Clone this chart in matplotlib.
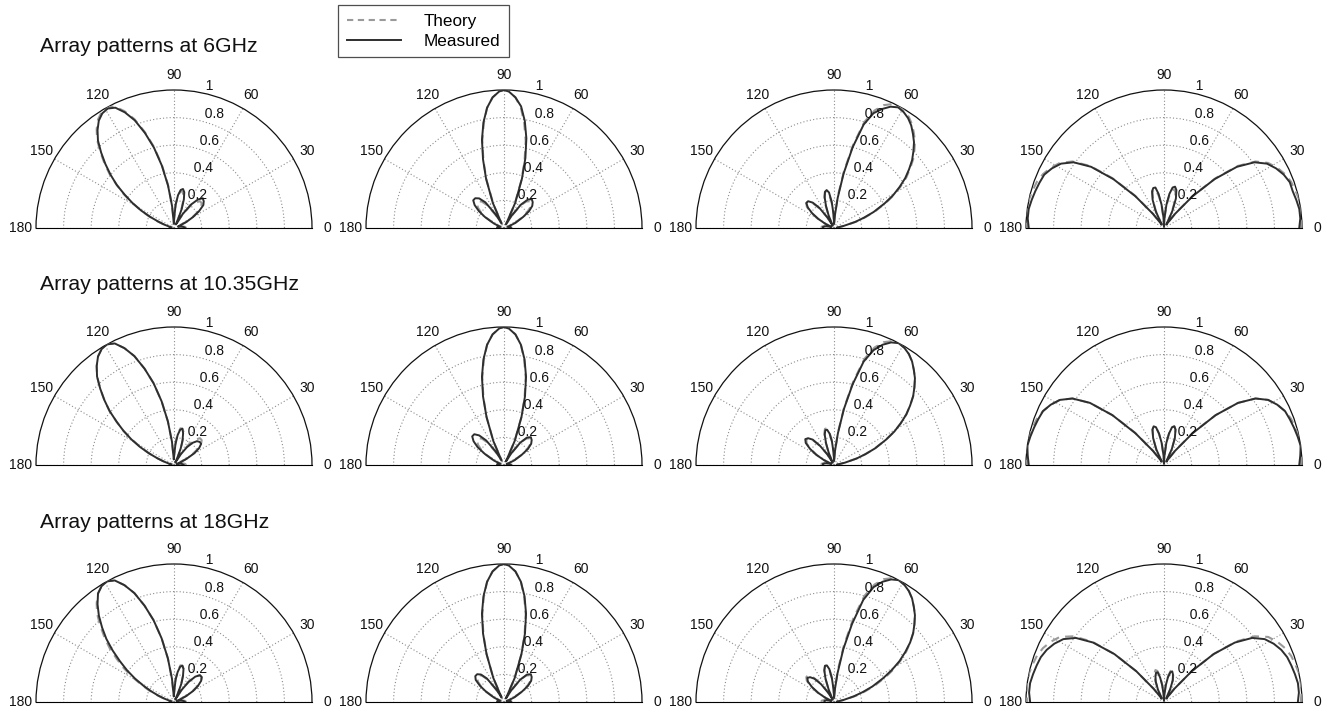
import numpy as np
import matplotlib
matplotlib.use("Agg")
import matplotlib.pyplot as plt
from matplotlib.lines import Line2D

plt.rcParams['font.family'] = ['Liberation Sans', 'DejaVu Sans']

# ---------------- data ----------------
row_titles = ['Array patterns at 6GHz', 'Array patterns at 10.35GHz', 'Array patterns at 18GHz']
theta_ticks = [0, 30, 60, 90, 120, 150, 180]
r_ticks = [0.2, 0.4, 0.6, 0.8, 1.0]
r_tick_labels = ['0.2', '0.4', '0.6', '0.8', '1']

# angle grids (degrees), one per column
th_col1 = [0, 6, 12, 18, 22, 26, 30, 34, 38, 42, 46, 50, 54, 58, 62, 65, 68, 71, 74, 77, 80, 83, 86, 89,
           92, 95, 98, 101, 104, 107, 110, 113, 116, 119, 122, 125, 128, 131, 134, 137, 140, 143, 146,
           149, 152, 155, 158, 161, 164, 168, 174, 180]
th_col2 = [0, 6, 12, 18, 24, 30, 34, 38, 42, 46, 50, 54, 58, 62, 66, 70, 73, 76, 79, 82, 85, 88, 90,
           92, 95, 98, 101, 104, 107, 110, 114, 118, 122, 126, 130, 134, 138, 142, 146, 150, 156, 162,
           168, 174, 180]
th_col3 = [0, 6, 12, 16, 19, 22, 26, 29, 32, 35, 38, 41, 44, 47, 50, 53, 56, 59, 62, 65, 68, 71, 74, 77,
           80, 83, 86, 89, 92, 95, 98, 101, 104, 107, 110, 113, 116, 119, 122, 126, 130, 134, 138, 142,
           146, 150, 154, 158, 162, 168, 174, 180]
th_col4 = [0, 4, 8, 12, 16, 20, 24, 28, 32, 36, 40, 44, 48, 52, 56, 60, 64, 68, 72, 75, 78, 81, 84, 87,
           90, 93, 96, 99, 102, 105, 108, 112, 116, 120, 124, 128, 132, 136, 140, 144, 148, 152, 156,
           160, 164, 168, 172, 176, 180]

# theory patterns
theory_c1 = [0.09, 0.08, 0.06, 0.02, 0.03, 0.09, 0.15, 0.21, 0.25, 0.27, 0.27, 0.24, 0.19, 0.11, 0.02,
             0.06, 0.14, 0.20, 0.25, 0.27, 0.27, 0.23, 0.17, 0.08, 0.04, 0.17, 0.32, 0.47, 0.61, 0.73,
             0.84, 0.92, 0.98, 1.00, 0.99, 0.96, 0.91, 0.85, 0.77, 0.69, 0.61, 0.52, 0.44, 0.35, 0.27,
             0.20, 0.13, 0.08, 0.04, 0.01, 0.03, 0.04]
theory_c2 = [0.06, 0.05, 0.03, 0.02, 0.08, 0.15, 0.20, 0.24, 0.26, 0.27, 0.25, 0.20, 0.10, 0.03, 0.19,
             0.37, 0.51, 0.65, 0.77, 0.88, 0.95, 0.99, 1.00, 0.99, 0.95, 0.88, 0.77, 0.65, 0.51, 0.37,
             0.19, 0.03, 0.10, 0.20, 0.25, 0.27, 0.26, 0.24, 0.20, 0.15, 0.08, 0.02, 0.03, 0.05, 0.06]
theory_c3 = [0.03, 0.02, 0.08, 0.17, 0.24, 0.32, 0.42, 0.50, 0.57, 0.64, 0.70, 0.76, 0.81, 0.86, 0.90,
             0.94, 0.97, 0.99, 1.00, 0.99, 0.96, 0.90, 0.80, 0.62, 0.42, 0.24, 0.10, 0.03, 0.10, 0.18,
             0.24, 0.27, 0.27, 0.24, 0.18, 0.11, 0.04, 0.02, 0.09, 0.17, 0.23, 0.27, 0.27, 0.25, 0.20,
             0.14, 0.08, 0.02, 0.03, 0.07, 0.09, 0.09]
theory_c4 = [0.99, 1.00, 1.00, 1.00, 0.99, 0.98, 0.96, 0.93, 0.89, 0.82, 0.70, 0.52, 0.32, 0.14, 0.03,
             0.05, 0.13, 0.21, 0.27, 0.29, 0.28, 0.23, 0.16, 0.07, 0.01, 0.07, 0.16, 0.23, 0.28, 0.29,
             0.27, 0.21, 0.13, 0.05, 0.03, 0.14, 0.32, 0.52, 0.70, 0.82, 0.89, 0.93, 0.96, 0.98, 0.99,
             1.00, 1.00, 1.00, 0.99]
theory_18_c4 = [0.99, 1.00, 1.00, 1.00, 0.99, 0.98, 0.96, 0.93, 0.89, 0.81, 0.68, 0.50, 0.30, 0.12, 0.03,
                0.04, 0.10, 0.17, 0.22, 0.24, 0.23, 0.19, 0.13, 0.06, 0.01, 0.06, 0.13, 0.19, 0.23, 0.24,
                0.22, 0.17, 0.10, 0.04, 0.03, 0.12, 0.30, 0.50, 0.68, 0.81, 0.89, 0.93, 0.96, 0.98, 0.99,
                1.00, 1.00, 1.00, 0.99]

# measured patterns (row = frequency, col = steering state)
meas_6_c1 = [0.08, 0.07, 0.05, 0.03, 0.04, 0.10, 0.16, 0.22, 0.27, 0.29, 0.30, 0.27, 0.21, 0.12, 0.03,
             0.07, 0.15, 0.22, 0.27, 0.29, 0.28, 0.24, 0.17, 0.07, 0.03, 0.16, 0.31, 0.46, 0.60, 0.72,
             0.83, 0.91, 0.97, 0.99, 0.98, 0.95, 0.90, 0.84, 0.76, 0.68, 0.60, 0.52, 0.43, 0.35, 0.27,
             0.19, 0.12, 0.07, 0.03, 0.02, 0.03, 0.03]
meas_6_c2 = [0.05, 0.05, 0.03, 0.03, 0.09, 0.16, 0.22, 0.26, 0.28, 0.29, 0.27, 0.21, 0.11, 0.03, 0.20,
             0.38, 0.53, 0.67, 0.79, 0.89, 0.95, 0.99, 1.00, 0.99, 0.95, 0.88, 0.78, 0.66, 0.52, 0.38,
             0.20, 0.04, 0.12, 0.23, 0.28, 0.30, 0.30, 0.27, 0.22, 0.16, 0.08, 0.03, 0.03, 0.05, 0.05]
meas_6_c3 = [0.03, 0.02, 0.07, 0.16, 0.23, 0.31, 0.41, 0.49, 0.56, 0.63, 0.69, 0.75, 0.80, 0.85, 0.89,
             0.93, 0.96, 0.98, 0.99, 0.97, 0.93, 0.88, 0.78, 0.60, 0.40, 0.22, 0.09, 0.03, 0.10, 0.19,
             0.26, 0.28, 0.27, 0.23, 0.17, 0.10, 0.04, 0.02, 0.09, 0.18, 0.24, 0.27, 0.27, 0.24, 0.19,
             0.13, 0.07, 0.02, 0.03, 0.06, 0.08, 0.08]
meas_6_c4 = [0.98, 0.99, 0.99, 0.98, 0.97, 0.97, 0.95, 0.92, 0.88, 0.81, 0.69, 0.51, 0.31, 0.13, 0.03,
             0.06, 0.14, 0.23, 0.29, 0.31, 0.30, 0.25, 0.17, 0.08, 0.01, 0.08, 0.17, 0.25, 0.30, 0.30,
             0.28, 0.22, 0.14, 0.05, 0.03, 0.13, 0.31, 0.51, 0.69, 0.81, 0.88, 0.92, 0.95, 0.96, 0.97,
             0.98, 0.99, 0.99, 0.98]

meas_10_c1 = [0.07, 0.06, 0.05, 0.02, 0.04, 0.10, 0.17, 0.22, 0.25, 0.25, 0.24, 0.21, 0.16, 0.09, 0.02,
              0.06, 0.13, 0.19, 0.24, 0.27, 0.26, 0.22, 0.15, 0.07, 0.04, 0.17, 0.32, 0.47, 0.61, 0.73,
              0.84, 0.92, 0.98, 1.00, 0.99, 0.96, 0.91, 0.85, 0.77, 0.69, 0.61, 0.52, 0.44, 0.36, 0.28,
              0.20, 0.13, 0.08, 0.04, 0.02, 0.03, 0.03]
meas_10_c2 = [0.05, 0.04, 0.03, 0.02, 0.08, 0.15, 0.21, 0.25, 0.27, 0.28, 0.26, 0.20, 0.10, 0.03, 0.19,
              0.37, 0.52, 0.66, 0.78, 0.88, 0.95, 0.99, 1.00, 0.99, 0.95, 0.88, 0.78, 0.66, 0.52, 0.37,
              0.19, 0.04, 0.12, 0.22, 0.28, 0.31, 0.31, 0.28, 0.23, 0.16, 0.08, 0.03, 0.03, 0.05, 0.05]
meas_10_c3 = [0.03, 0.02, 0.08, 0.17, 0.24, 0.32, 0.42, 0.50, 0.57, 0.64, 0.70, 0.76, 0.81, 0.86, 0.90,
              0.94, 0.97, 0.99, 1.00, 0.98, 0.94, 0.88, 0.78, 0.60, 0.41, 0.23, 0.10, 0.03, 0.09, 0.17,
              0.23, 0.26, 0.26, 0.23, 0.17, 0.10, 0.04, 0.02, 0.09, 0.17, 0.24, 0.27, 0.28, 0.26, 0.21,
              0.15, 0.08, 0.02, 0.03, 0.06, 0.08, 0.08]
meas_10_c4 = [0.98, 0.99, 1.00, 0.99, 0.98, 0.97, 0.96, 0.93, 0.89, 0.82, 0.70, 0.52, 0.31, 0.13, 0.03,
              0.05, 0.13, 0.21, 0.27, 0.29, 0.28, 0.23, 0.16, 0.07, 0.01, 0.07, 0.16, 0.23, 0.28, 0.29,
              0.27, 0.21, 0.13, 0.05, 0.03, 0.13, 0.31, 0.52, 0.70, 0.82, 0.89, 0.93, 0.96, 0.97, 0.98,
              0.99, 1.00, 0.99, 0.98]

meas_18_c1 = [0.08, 0.07, 0.05, 0.02, 0.04, 0.10, 0.16, 0.21, 0.25, 0.27, 0.27, 0.24, 0.18, 0.10, 0.02,
              0.06, 0.14, 0.20, 0.25, 0.27, 0.26, 0.22, 0.16, 0.07, 0.04, 0.17, 0.32, 0.47, 0.61, 0.73,
              0.84, 0.92, 0.98, 1.00, 0.99, 0.96, 0.90, 0.83, 0.75, 0.67, 0.58, 0.49, 0.41, 0.33, 0.25,
              0.18, 0.12, 0.07, 0.03, 0.02, 0.03, 0.03]
meas_18_c2 = [0.05, 0.05, 0.03, 0.02, 0.08, 0.15, 0.21, 0.25, 0.27, 0.28, 0.26, 0.20, 0.10, 0.03, 0.19,
              0.37, 0.52, 0.66, 0.78, 0.88, 0.95, 0.99, 1.00, 0.99, 0.95, 0.88, 0.78, 0.66, 0.52, 0.37,
              0.19, 0.04, 0.11, 0.21, 0.26, 0.28, 0.28, 0.26, 0.21, 0.15, 0.08, 0.03, 0.03, 0.05, 0.05]
meas_18_c3 = [0.03, 0.02, 0.07, 0.15, 0.22, 0.30, 0.40, 0.48, 0.56, 0.63, 0.70, 0.76, 0.81, 0.86, 0.90,
              0.94, 0.97, 0.99, 1.00, 0.98, 0.94, 0.88, 0.77, 0.58, 0.39, 0.21, 0.09, 0.03, 0.09, 0.17,
              0.24, 0.27, 0.27, 0.24, 0.18, 0.10, 0.04, 0.02, 0.08, 0.16, 0.22, 0.25, 0.26, 0.24, 0.19,
              0.13, 0.07, 0.02, 0.03, 0.06, 0.07, 0.07]
meas_18_c4 = [0.97, 0.98, 0.98, 0.97, 0.96, 0.95, 0.93, 0.90, 0.86, 0.79, 0.67, 0.50, 0.30, 0.12, 0.03,
              0.04, 0.10, 0.17, 0.21, 0.23, 0.22, 0.18, 0.12, 0.05, 0.01, 0.05, 0.12, 0.18, 0.22, 0.22,
              0.20, 0.16, 0.10, 0.04, 0.03, 0.12, 0.30, 0.50, 0.67, 0.79, 0.86, 0.90, 0.93, 0.95, 0.96,
              0.97, 0.98, 0.98, 0.97]

theta_grids = [th_col1, th_col2, th_col3, th_col4]
theory = [[theory_c1, theory_c2, theory_c3, theory_c4],
          [theory_c1, theory_c2, theory_c3, theory_c4],
          [theory_c1, theory_c2, theory_c3, theory_18_c4]]
measured = [[meas_6_c1, meas_6_c2, meas_6_c3, meas_6_c4],
            [meas_10_c1, meas_10_c2, meas_10_c3, meas_10_c4],
            [meas_18_c1, meas_18_c2, meas_18_c3, meas_18_c4]]

# ---------------- layout ----------------
W, H = 1333, 720
fig = plt.figure(figsize=(W / 100, H / 100), dpi=100)
fig.patch.set_facecolor('white')

col_cx = [174, 504, 834, 1164]
row_base = [228, 465, 702]
title_y = [47, 285, 522]
R = 138

theory_color = '#9a9a9a'
meas_color = '#2e2e2e'
grid_color = '#8c8c8c'
dash = (0, (4, 3))

for i in range(3):
    fig.text(40 / W, 1 - title_y[i] / H, row_titles[i], fontsize=15.3, ha='left', va='center',
             color='#111111')
    for j in range(4):
        # square box; the half disc is centred vertically inside it
        top_px = row_base[i] - 1.5 * R
        rect = [(col_cx[j] - R) / W, (H - (top_px + 2 * R)) / H, 2 * R / W, 2 * R / H]
        ax = fig.add_axes(rect, projection='polar')
        ax.set_thetamin(0)
        ax.set_thetamax(180)
        ax.set_ylim(0, 1)
        ax.set_xticks(np.deg2rad(theta_ticks))
        ax.set_xticklabels([])
        ax.set_yticks(r_ticks[:-1])
        ax.set_yticklabels([])
        ax.tick_params(length=0)
        ax.grid(True, color=grid_color, linestyle=(0, (1, 2)), linewidth=0.8)
        for s in ['start', 'end', 'inner']:
            ax.spines[s].set_visible(False)
        ax.spines['polar'].set_color('#111111')
        ax.spines['polar'].set_linewidth(0.9)
        ax.patch.set_alpha(0)

        th = np.deg2rad(theta_grids[j])
        ax.plot(th, theory[i][j], color=theory_color, linestyle=dash, linewidth=1.5, zorder=3)
        ax.plot(th, measured[i][j], color=meas_color, linestyle='-', linewidth=1.4, zorder=4)

        for a in theta_ticks:
            ax.text(np.deg2rad(a), 1.11, str(a), ha='center', va='center', fontsize=10,
                    color='#111111', clip_on=False)
        for rv, lab in zip(r_ticks, r_tick_labels):
            ang = 80 if lab == '1' else 78
            ax.text(np.deg2rad(ang), rv + 0.015, '  ' + lab, ha='left', va='baseline', fontsize=10,
                    color='#111111', clip_on=False, zorder=5)

handles = [Line2D([0], [0], color=theory_color, linestyle=(0, (3, 2.2)), linewidth=1.5),
           Line2D([0], [0], color=meas_color, linestyle='-', linewidth=1.4)]
leg = fig.legend(handles, ['Theory', 'Measured'], loc='upper left',
                 bbox_to_anchor=(338 / W, 1 - 5 / H), fontsize=12.3, frameon=True, fancybox=False,
                 edgecolor='#222222', borderpad=0.5, labelspacing=0.3, handlelength=3.2,
                 handletextpad=1.3, borderaxespad=0)
leg.get_frame().set_linewidth(0.9)

fig.savefig('out.png', dpi=100, facecolor='white')
